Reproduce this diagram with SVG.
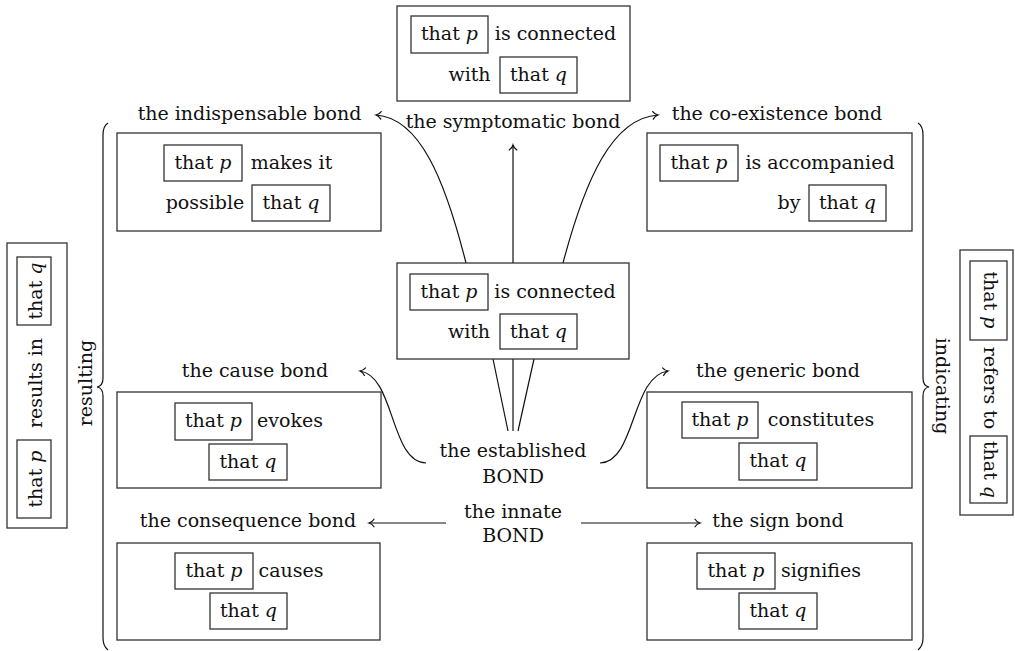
<svg xmlns="http://www.w3.org/2000/svg" width="1015" height="651" viewBox="0 0 1015 651">
<style>
text{font-family:"DejaVu Serif","Liberation Serif",serif;font-size:19px;fill:#111;text-anchor:middle}
.b{fill:none;stroke:#333;stroke-width:1.3}
.c{fill:none;stroke:#111;stroke-width:1.2}
.i{font-style:italic}
</style>
<defs>
<marker id="ah" markerWidth="12" markerHeight="12" refX="0" refY="0" viewBox="-6 -6 12 12" orient="auto" markerUnits="userSpaceOnUse">
<path d="M-5,-3.8 C-3.6,-1.6 -1.8,-0.5 0,0 C-1.8,0.5 -3.6,1.6 -5,3.8" fill="none" stroke="#111" stroke-width="1.2" stroke-linecap="round"/>
</marker>
</defs>

<g id="connectors">
<path class="c" d="M513,263 L513,145" marker-end="url(#ah)"/>
<path class="c" d="M466,263 C445,180 420,118 376,115" marker-end="url(#ah)"/>
<path class="c" d="M563,263 C585,180 612,118 658,115" marker-end="url(#ah)"/>
<path class="c" d="M508,431 L493,359"/>
<path class="c" d="M513,431 L513,359"/>
<path class="c" d="M518,431 L534,359"/>
<path class="c" d="M426,463 C390,462 395,376 360,371" marker-end="url(#ah)"/>
<path class="c" d="M600,463 C636,462 631,376 668,371" marker-end="url(#ah)"/>
<path class="c" d="M446,523 L369,523" marker-end="url(#ah)"/>
<path class="c" d="M581,523 L700,523" marker-end="url(#ah)"/>
<path class="c" d="M108,123 Q103,126 103,135 L103,378 Q103,386 97,387 Q103,388 103,396 L103,638 Q103,646 108,650"/>
<path class="c" d="M918,123 Q923,126 923,135 L923,378 Q923,386 929,387 Q923,388 923,396 L923,638 Q923,646 918,650"/>
</g>

<g id="n-top">
<rect class="b" x="397" y="6" width="233" height="95"/>
<rect class="b" x="411" y="16" width="77" height="37"/>
<text x="449.5" y="40">that <tspan class="i">p</tspan></text>
<text x="555.5" y="40">is connected</text>
<text x="469.5" y="81">with</text>
<rect class="b" x="500" y="57" width="77" height="36"/>
<text x="538.5" y="81">that <tspan class="i">q</tspan></text>
<text x="513" y="128">the symptomatic bond</text>
</g>

<g id="n-indispensable">
<text x="249.5" y="120">the indispensable bond</text>
<rect class="b" x="117" y="133" width="264" height="98"/>
<rect class="b" x="164" y="145" width="78" height="36"/>
<text x="203" y="169">that <tspan class="i">p</tspan></text>
<text x="291.5" y="169">makes it</text>
<text x="205" y="209">possible</text>
<rect class="b" x="252" y="185" width="78" height="36"/>
<text x="291" y="209">that <tspan class="i">q</tspan></text>
</g>

<g id="n-coexistence">
<text x="777" y="120">the co-existence bond</text>
<rect class="b" x="647" y="133" width="265" height="98"/>
<rect class="b" x="660" y="145" width="78" height="36"/>
<text x="699" y="169">that <tspan class="i">p</tspan></text>
<text x="820" y="169">is accompanied</text>
<text x="789" y="209">by</text>
<rect class="b" x="809" y="185" width="77" height="36"/>
<text x="847.5" y="209">that <tspan class="i">q</tspan></text>
</g>

<g id="n-center">
<rect class="b" x="397" y="263" width="232" height="96"/>
<rect class="b" x="410" y="274" width="78" height="36"/>
<text x="449" y="298">that <tspan class="i">p</tspan></text>
<text x="555" y="298">is connected</text>
<text x="469" y="338">with</text>
<rect class="b" x="500" y="314" width="77" height="35"/>
<text x="538.5" y="338">that <tspan class="i">q</tspan></text>
</g>

<g id="n-cause">
<text x="255" y="377">the cause bond</text>
<rect class="b" x="117" y="392" width="264" height="96"/>
<rect class="b" x="175" y="403" width="77" height="37"/>
<text x="213.5" y="427">that <tspan class="i">p</tspan></text>
<text x="290" y="427">evokes</text>
<rect class="b" x="209" y="444" width="78" height="36"/>
<text x="248" y="468">that <tspan class="i">q</tspan></text>
</g>

<g id="n-generic">
<text x="778" y="377">the generic bond</text>
<rect class="b" x="647" y="392" width="265" height="96"/>
<rect class="b" x="682" y="402" width="76" height="36"/>
<text x="720" y="426">that <tspan class="i">p</tspan></text>
<text x="821" y="426">constitutes</text>
<rect class="b" x="739" y="443" width="78" height="37"/>
<text x="778" y="467">that <tspan class="i">q</tspan></text>
</g>

<g id="n-established">
<text x="513" y="457">the established</text>
<text x="513" y="483">BOND</text>
</g>

<g id="n-innate">
<text x="513" y="518">the innate</text>
<text x="513" y="542">BOND</text>
</g>

<g id="n-consequence">
<text x="248" y="527">the consequence bond</text>
<rect class="b" x="117" y="543" width="263" height="97"/>
<rect class="b" x="175" y="553" width="78" height="36"/>
<text x="214" y="577">that <tspan class="i">p</tspan></text>
<text x="291" y="577">causes</text>
<rect class="b" x="210" y="593" width="77" height="36"/>
<text x="248.5" y="617">that <tspan class="i">q</tspan></text>
</g>

<g id="n-sign">
<text x="778" y="527">the sign bond</text>
<rect class="b" x="647" y="543" width="265" height="97"/>
<rect class="b" x="697" y="553" width="78" height="36"/>
<text x="736" y="577">that <tspan class="i">p</tspan></text>
<text x="821" y="577">signifies</text>
<rect class="b" x="739" y="593" width="78" height="36"/>
<text x="778" y="617">that <tspan class="i">q</tspan></text>
</g>

<g id="n-resulting">
<rect class="b" x="7" y="243" width="60" height="285"/>
<rect class="b" x="17" y="257" width="34" height="68"/>
<text transform="translate(42,291) rotate(-90)">that <tspan class="i">q</tspan></text>
<text transform="translate(42,383) rotate(-90)">results in</text>
<rect class="b" x="17" y="440" width="34" height="78"/>
<text transform="translate(42,479) rotate(-90)">that <tspan class="i">p</tspan></text>
<text transform="translate(92,383) rotate(-90)">resulting</text>
</g>

<g id="n-indicating">
<rect class="b" x="960" y="250" width="53" height="265"/>
<rect class="b" x="970" y="261" width="37" height="79"/>
<text transform="translate(984,300) rotate(90)">that <tspan class="i">p</tspan></text>
<text transform="translate(984,388) rotate(90)">refers to</text>
<rect class="b" x="970" y="436" width="37" height="67"/>
<text transform="translate(984,469.5) rotate(90)">that <tspan class="i">q</tspan></text>
<text transform="translate(936,386) rotate(90)">indicating</text>
</g>
</svg>
